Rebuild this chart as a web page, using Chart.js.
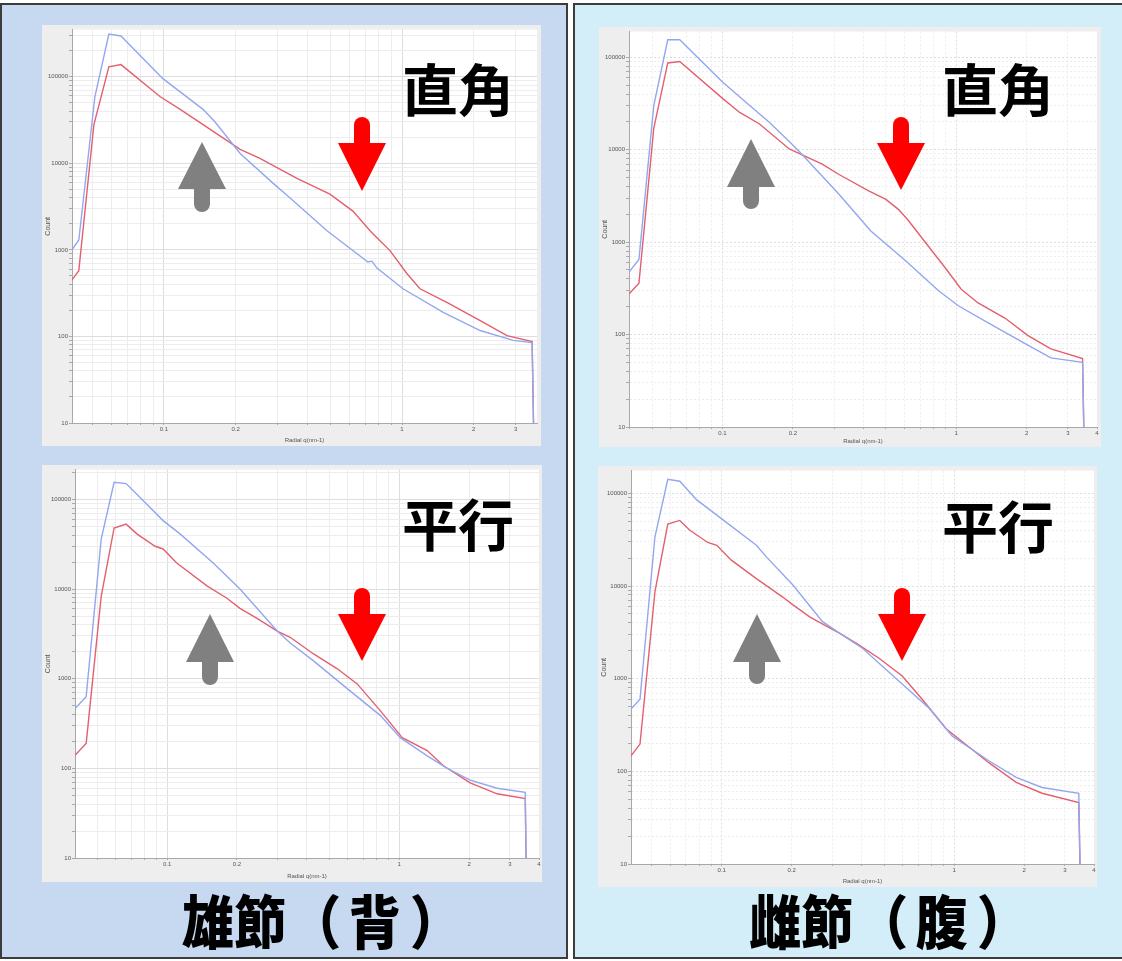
<!DOCTYPE html>
<html>
<head>
<meta charset="utf-8">
<script src="https://cdn.jsdelivr.net/npm/chart.js@4.4.1/dist/chart.umd.min.js"></script>
<style>
  body { margin: 0; width: 1122px; height: 961px; position: relative; overflow: hidden; background: #fff;
         font-family: 'Noto Sans CJK JP', sans-serif; }
  .panel { position: absolute; box-sizing: border-box; border: 2px solid #3c3c3c; }
  .shot { position: absolute; background: #eeeeee; }
  .shot canvas { display: block; }
  .tag { position: absolute; font-size: 56px; font-weight: 700; line-height: 1; color: #000; white-space: nowrap; }
  .caption { position: absolute; font-size: 58px; font-weight: 900; line-height: 1; color: #000; white-space: nowrap;
             transform: scaleX(0.9); transform-origin: left top; }
  .caption span { display: inline-block; }
  #arrows { position: absolute; left: 0; top: 0; }
</style>
</head>
<body>
<div class="panel" style="left:0;top:3px;width:568px;height:956px;background:#c6d9f0"></div>
<div class="panel" style="left:573px;top:3px;width:560px;height:956px;background:#d4eef9"></div>

<div class="shot" style="left:42px;top:25px"><canvas id="chart-tl" width="499" height="421"></canvas></div>
<div class="shot" style="left:599px;top:27px"><canvas id="chart-tr" width="502" height="420"></canvas></div>
<div class="shot" style="left:42px;top:465px"><canvas id="chart-bl" width="500" height="417"></canvas></div>
<div class="shot" style="left:598px;top:466px"><canvas id="chart-br" width="499" height="421"></canvas></div>

<svg id="arrows" width="1122" height="961"></svg>

<div class="tag" style="left:402px;top:59px">直角</div>
<div class="tag" style="left:942px;top:59px">直角</div>
<div class="tag" style="left:402px;top:494px">平行</div>
<div class="tag" style="left:942px;top:496px">平行</div>

<div class="caption" style="left:182px;top:890px">雄節<span style="margin-left:3px">（</span><span style="margin-left:8px">背</span><span style="margin-left:10px">）</span></div>
<div class="caption" style="left:749px;top:890px">雌節<span style="margin-left:3px">（</span><span style="margin-left:8px">腹</span><span style="margin-left:10px">）</span></div>

<script>
/* Radial profiles: q in nm-1, intensity counts */

/* 雄節 (背), 直角 */
const tlBlueQ     = [0.0411, 0.0439, 0.0513, 0.0587, 0.066, 0.099, 0.146, 0.164, 0.209, 0.287, 0.338, 0.484, 0.719, 0.748, 0.785, 1.01, 1.49, 2.13, 2.93, 3.52, 3.62];
const tlBlueCount = [1000, 1300, 59000, 310000, 295000, 95000, 42000, 30000, 13000, 5900, 4000, 1660, 725, 740, 615, 355, 190, 117, 90, 85, 1];
const tlRedQ      = [0.0411, 0.0439, 0.0508, 0.0587, 0.066, 0.0962, 0.117, 0.146, 0.209, 0.253, 0.362, 0.498, 0.622, 0.734, 0.785, 0.89, 1.05, 1.19, 1.55, 2.13, 2.76, 3.52, 3.62];
const tlRedCount  = [450, 575, 28000, 130000, 138000, 59000, 42000, 28000, 14500, 11400, 6700, 4400, 2800, 1660, 1380, 980, 530, 355, 245, 152, 102, 87, 1];

/* 雌節 (腹), 直角 */
const trBlueQ     = [0.0398, 0.0439, 0.0508, 0.0583, 0.0656, 0.1, 0.122, 0.158, 0.193, 0.219, 0.315, 0.431, 0.607, 0.838, 1.02, 1.37, 1.97, 2.54, 3.47, 3.57];
const trBlueCount = [475, 650, 30000, 155000, 155000, 54000, 35000, 20000, 12300, 8900, 3300, 1320, 630, 300, 205, 134, 80, 56, 50, 1];
const trRedQ      = [0.0398, 0.0439, 0.0508, 0.0583, 0.0656, 0.1, 0.118, 0.144, 0.193, 0.267, 0.315, 0.422, 0.5, 0.567, 0.62, 0.676, 0.898, 1.05, 1.24, 1.62, 2.02, 2.54, 3.47, 3.57];
const trRedCount  = [275, 360, 17000, 87000, 90000, 36000, 25500, 19000, 10200, 7000, 5400, 3600, 2900, 2250, 1750, 1320, 525, 310, 220, 150, 98, 70, 55, 1];

/* 雄節 (背), 平行 */
const blBlueQ     = [0.0401, 0.0448, 0.052, 0.0591, 0.0666, 0.0961, 0.114, 0.158, 0.206, 0.298, 0.339, 0.426, 0.597, 0.828, 1.01, 1.32, 1.61, 2.02, 2.64, 3.49, 3.56];
const blBlueCount = [465, 630, 36000, 155000, 150000, 58000, 41000, 19500, 10000, 3400, 2500, 1590, 775, 390, 220, 138, 100, 74, 60, 54, 1];
const blRedQ      = [0.0401, 0.0448, 0.052, 0.0591, 0.0666, 0.0743, 0.0888, 0.0961, 0.11, 0.149, 0.181, 0.206, 0.244, 0.298, 0.339, 0.426, 0.541, 0.659, 0.828, 1.03, 1.32, 1.55, 2.02, 2.64, 3.49, 3.56];
const blRedCount  = [140, 190, 8300, 48000, 53000, 41000, 30000, 28000, 19500, 10800, 7900, 6100, 4700, 3400, 2900, 1900, 1290, 875, 440, 220, 158, 107, 69, 52, 46, 1];

/* 雌節 (腹), 平行 */
const brBlueQ     = [0.0407, 0.0445, 0.0516, 0.0586, 0.066, 0.0781, 0.101, 0.141, 0.156, 0.202, 0.271, 0.321, 0.403, 0.564, 0.781, 0.98, 1.41, 1.85, 2.39, 3.44, 3.54];
const brBlueCount = [470, 600, 34000, 142000, 135000, 85000, 52000, 27500, 20500, 10300, 4150, 3100, 2130, 1000, 480, 241, 130, 86, 67, 58, 1];
const brRedQ      = [0.0407, 0.0445, 0.0516, 0.0586, 0.066, 0.0729, 0.0871, 0.0952, 0.11, 0.141, 0.183, 0.202, 0.239, 0.271, 0.321, 0.38, 0.477, 0.598, 0.729, 0.924, 1.41, 1.85, 2.39, 3.44, 3.54];
const brRedCount  = [147, 197, 8700, 46500, 51000, 40000, 29500, 27500, 19000, 12000, 7600, 6300, 4650, 3900, 3100, 2400, 1650, 1070, 600, 288, 124, 76, 58, 46, 1];

/* Axis labels */
const xTickLabels = [0.1, 0.2, 1, 2, 3, 4];
const yTickLabels = [10, 100, 1000, 10000, 100000];
const gridSteps = [1, 2, 3, 4, 5, 6, 7, 8, 9];

const BLUE = '#92a7ef';
const RED = '#e2606f';

Chart.defaults.font.family = "'Liberation Sans', Arial, sans-serif";
Chart.defaults.font.size = 6;
Chart.defaults.color = '#666';

/* Frame of each screenshot and its plot area, page pixels */
const CHARTS = [
  { id: 'chart-tl', shot: [42, 25, 541, 446], plot: [72, 28, 537, 423], xMin: 0.0411, xMax: 3.69, yMax: 350000, dashed: false,
    blue: [tlBlueQ, tlBlueCount], red: [tlRedQ, tlRedCount] },
  { id: 'chart-tr', shot: [599, 27, 1101, 447], plot: [629, 30, 1097, 427], xMin: 0.0398, xMax: 4, yMax: 190000, dashed: true,
    blue: [trBlueQ, trBlueCount], red: [trRedQ, trRedCount] },
  { id: 'chart-bl', shot: [42, 465, 542, 882], plot: [75, 467, 539, 858], xMin: 0.0401, xMax: 4, yMax: 215000, dashed: false,
    blue: [blBlueQ, blBlueCount], red: [blRedQ, blRedCount] },
  { id: 'chart-br', shot: [598, 466, 1097, 887], plot: [631, 468, 1094, 864], xMin: 0.0407, xMax: 4, yMax: 176000, dashed: true,
    blue: [brBlueQ, brBlueCount], red: [brRedQ, brRedCount] }
];

function logGrid(min, max) {
  var out = [];
  for (var e = Math.floor(Math.log10(min)); e <= Math.ceil(Math.log10(max)); e++) {
    gridSteps.forEach(function(m) {
      var v = +(m * Math.pow(10, e)).toPrecision(6);
      if (v >= min * 0.999 && v <= max * 1.001) out.push(v);
    });
  }
  return out;
}

function isDecade(v) {
  var l = Math.log10(v);
  return Math.abs(l - Math.round(l)) < 1e-9;
}

function toPoints(pair) {
  return pair[0].map(function(q, i) { return { x: q, y: pair[1][i] }; });
}

/* White plot area over the grey screenshot margin */
const plotBackground = {
  id: 'plotBackground',
  beforeDraw: function(chart) {
    var a = chart.chartArea, c = chart.ctx;
    c.save();
    c.fillStyle = '#ffffff';
    c.fillRect(a.left, a.top, a.right - a.left, a.bottom - a.top);
    c.restore();
  }
};

function gridColour(ctx) {
  return ctx.tick && isDecade(ctx.tick.value) ? '#dddddd' : '#ededed';
}

CHARTS.forEach(function(cfg) {
  var shot = cfg.shot, plot = cfg.plot;
  var xGrid = logGrid(cfg.xMin, cfg.xMax);
  var yGrid = logGrid(10, cfg.yMax);
  var dash = cfg.dashed ? [2, 2] : [];

  new Chart(document.getElementById(cfg.id), {
    type: 'line',
    data: {
      datasets: [
        { data: toPoints(cfg.blue), borderColor: BLUE, borderWidth: 1.4, pointRadius: 0, tension: 0 },
        { data: toPoints(cfg.red), borderColor: RED, borderWidth: 1.4, pointRadius: 0, tension: 0 }
      ]
    },
    plugins: [plotBackground],
    options: {
      responsive: false,
      animation: false,
      events: [],
      layout: { padding: { left: 0, bottom: 0, top: plot[1] - shot[1], right: shot[2] - plot[2] } },
      plugins: { legend: { display: false }, tooltip: { enabled: false } },
      scales: {
        x: {
          type: 'logarithmic',
          min: cfg.xMin,
          max: cfg.xMax,
          afterBuildTicks: function(s) { s.ticks = xGrid.map(function(v) { return { value: v }; }); },
          afterFit: function(s) { s.height = shot[3] - plot[3]; },
          ticks: {
            autoSkip: false, maxRotation: 0, padding: 1, color: '#555',
            callback: function(v) { return xTickLabels.indexOf(v) >= 0 ? String(v) : ''; }
          },
          grid: { color: gridColour, tickLength: 2, tickColor: '#aaa' },
          border: { color: '#a8a8a8', dash: dash },
          title: { display: true, text: 'Radial q(nm-1)', color: '#555', font: { size: 6 }, padding: { top: 1, bottom: 2 } }
        },
        y: {
          type: 'logarithmic',
          min: 10,
          max: cfg.yMax,
          afterBuildTicks: function(s) { s.ticks = yGrid.map(function(v) { return { value: v }; }); },
          afterFit: function(s) { s.width = plot[0] - shot[0]; },
          ticks: {
            autoSkip: false, padding: 1, color: '#555',
            callback: function(v) { return yTickLabels.indexOf(v) >= 0 ? String(v) : ''; }
          },
          grid: { color: gridColour, tickLength: 3, tickColor: '#aaa' },
          border: { color: '#a8a8a8', dash: dash },
          title: { display: true, text: 'Count', color: '#555', font: { size: 7 }, padding: { top: 2, bottom: 0 } }
        }
      }
    }
  });
});

/* Annotation arrows: grey up arrows, red down arrows */
const ARROWS = [
  { cx: 202, tip: 142, base: 189, end: 204, colour: '#808080' },
  { cx: 751, tip: 139, base: 187, end: 201, colour: '#808080' },
  { cx: 210, tip: 614, base: 662, end: 677, colour: '#808080' },
  { cx: 757, tip: 614, base: 662, end: 676, colour: '#808080' },
  { cx: 362, tip: 191, base: 143, end: 125, colour: '#ff0000' },
  { cx: 901, tip: 190, base: 143, end: 125, colour: '#ff0000' },
  { cx: 362, tip: 661, base: 614, end: 596, colour: '#ff0000' },
  { cx: 902, tip: 661, base: 614, end: 596, colour: '#ff0000' }
];
var svg = document.getElementById('arrows');
var svgMarkup = '';
ARROWS.forEach(function(a) {
  svgMarkup += '<polygon points="' + a.cx + ',' + a.tip + ' ' + (a.cx - 24) + ',' + a.base + ' ' + (a.cx + 24) + ',' + a.base +
    '" fill="' + a.colour + '"/>';
  svgMarkup += '<line x1="' + a.cx + '" y1="' + a.base + '" x2="' + a.cx + '" y2="' + a.end +
    '" stroke="' + a.colour + '" stroke-width="16" stroke-linecap="round"/>';
});
svg.innerHTML = svgMarkup;
</script>
</body>
</html>
